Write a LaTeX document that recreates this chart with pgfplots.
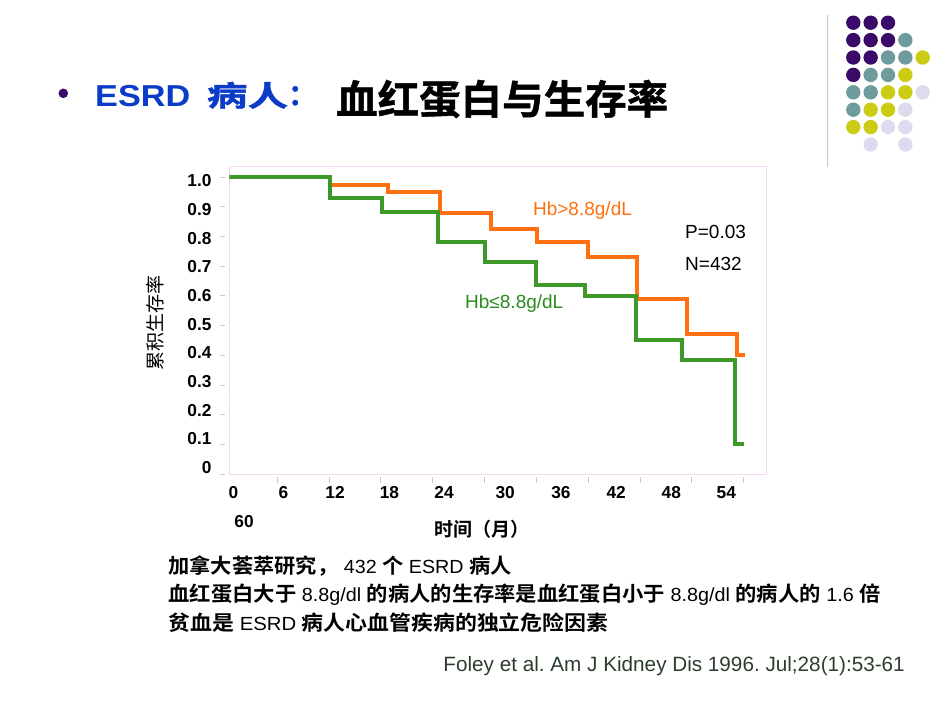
\documentclass[border=0pt]{standalone}
\usepackage{pgfplots}
\pgfplotsset{compat=1.18}
\usepackage{fontspec}
\setmainfont{Liberation Sans}
\newfontfamily\cjk{Noto Sans CJK SC}[BoldFont={Noto Sans CJK SC Bold}]
\newfontfamily\cjkheavy{Noto Sans CJK SC Bold}[FakeBold=1.2]
\newcommand\fs[1]{\fontsize{#1}{#1}\selectfont}
\frenchspacing

\definecolor{titleblue}{RGB}{10,60,200}
\definecolor{hbhigh}{RGB}{255,112,16}
\definecolor{hblow}{RGB}{62,152,40}
\definecolor{hblowtxt}{RGB}{40,140,30}
\definecolor{framepink}{RGB}{242,214,242}
\definecolor{tickgray}{RGB}{200,200,200}
\definecolor{citegreen}{RGB}{45,62,45}
\definecolor{dotP}{RGB}{59,10,104}
\definecolor{dotT}{RGB}{110,156,156}
\definecolor{dotY}{RGB}{204,204,20}
\definecolor{dotL}{RGB}{220,220,238}

% Kaplan--Meier curves: time (months), cumulative survival
\pgfplotstableread{
t      s
0      1.000
12.1   0.973
18.8   0.949
24.8   0.878
30.8   0.825
36.1   0.780
42.0   0.732
47.7   0.589
53.4   0.473
59.2   0.402
60.2   0.402
}\hbhightable
\pgfplotstableread{
t      s
0      1.000
12.1   0.928
18.1   0.883
24.6   0.780
30.1   0.713
36.0   0.637
41.6   0.601
47.6   0.452
52.9   0.385
59.0   0.100
60.0   0.100
}\hblowtable

\newcommand\zh[1]{{\cjk\bfseries\fs{20.5}#1}}

\begin{document}
\begin{tikzpicture}
\begin{scope}[x=1pt,y=-1pt]
  \path[use as bounding box] (0,0) rectangle (950,713);
  % slide decoration
  \draw[draw=tickgray, line width=1.5pt] (827.3,15) -- (827.3,167);
  \foreach \row/\cols in {0/{P,P,P,N,N},1/{P,P,P,T,N},2/{P,P,T,T,Y},3/{P,T,T,Y,N},
                          4/{T,T,Y,Y,L},5/{T,Y,Y,L,N},6/{Y,Y,L,L,N},7/{N,L,N,L,N}}{
    \foreach \c [count=\i from 0] in \cols {
      \if N\c\else
        \fill[dot\c] (853.3+17.35*\i, 22.7+17.4*\row) circle (7.2);
      \fi
    }
  }
  % title
  \fill[dotP] (63.3,93.3) circle (4.8);
  \node[anchor=base west, inner sep=0, text=titleblue] at (95,106.7)
    {\resizebox{95pt}{\height}{\fs{30.3}\bfseries ESRD}};
  \node[anchor=west, inner sep=0, text=titleblue] at (206.7,95.3)
    {\resizebox{81.3pt}{\height}{\fs{28.5}\cjkheavy 病人}};
  \node[anchor=center, inner sep=0, text=titleblue] at (302.5,95.8)
    {\fs{29}\cjkheavy ：};
  \node[anchor=west, inner sep=0] at (336,99)
    {\resizebox{332pt}{\height}{\fs{40}\cjkheavy 血红蛋白与生存率}};
  % curve annotations
  \node[anchor=base, inner sep=0, text=hbhigh, font=\fs{19}] at (582.5,215) {Hb>8.8g/dL};
  \node[anchor=base west, inner sep=0, font=\fs{19}] at (685,238.5) {P=0.03};
  \node[anchor=base west, inner sep=0, font=\fs{19}] at (685,270) {N=432};
  \node[anchor=base west, inner sep=0, text=hblowtxt, font=\fs{19}] at (465,308.5) {Hb≤8.8g/dL};
  % notes below the chart
  \node[anchor=base west, inner sep=0, font=\fs{19}] at (168.3,573.3)
    {\resizebox{343pt}{\height}{\zh{加拿大荟萃研究，} 432 \zh{个} ESRD \zh{病人}}};
  \node[anchor=base west, inner sep=0, font=\fs{19}] at (168.3,601.7)
    {\resizebox{712pt}{\height}{\zh{血红蛋白大于} 8.8g/dl \zh{的病人的生存率是血红蛋白小于} 8.8g/dl \zh{的病人的} 1.6 \zh{倍}}};
  \node[anchor=base west, inner sep=0, font=\fs{19}] at (168.3,630.7)
    {\resizebox{440pt}{\height}{\zh{贫血是} ESRD \zh{病人心血管疾病的独立危险因素}}};
  \node[anchor=base east, inner sep=0, text=citegreen, font=\fs{20.7}] at (905,671.7)
    {Foley et al. Am J Kidney Dis 1996. Jul;28(1):53-61};
\end{scope}

\begin{axis}[
  at={(229.3pt,-474pt)}, anchor=south west,
  scale only axis, width=536.7pt, height=308pt,
  xmin=0.46, xmax=62.6, ymin=0, ymax=1.037,
  axis line style={draw=framepink, line width=1pt},
  xtick pos=lower, ytick pos=left,
  tick align=outside, major tick length=5.5pt,
  xtick={6,12,...,60}, xticklabels={},
  extra x ticks={0.93,6.72,12.71,19.0,25.33,32.4,38.85,45.26,51.63,58.0},
  extra x tick labels={0,6,12,18,24,30,36,42,48,54},
  extra x tick style={major tick length=0pt, tick style={draw=none}},
  ytick={0,0.1,0.2,0.3,0.4,0.5,0.6,0.7,0.8,0.9,1.0},
  yticklabels={0,0.1,0.2,0.3,0.4,0.5,0.6,0.7,0.8,0.9,1.0},
  xtick style={draw=tickgray, line width=0.8pt, yshift=-3pt},
  ytick style={draw=tickgray, line width=0.8pt, xshift=-4.3pt},
  tick label style={font=\fs{17.3}\bfseries, inner sep=0pt},
  xticklabel style={anchor=center, yshift=-18.8pt},
  yticklabel style={anchor=east, xshift=-12.1pt, yshift={6.5pt-1.05pt*\ticknum}},
  xlabel={\cjk\bfseries 时间（月）},
  ylabel={\cjk 累积生存率},
  every axis x label/.style={at={(rel axis cs:0.4708,-0.18)}, anchor=center, font=\fs{19}},
  every axis y label/.style={at={(rel axis cs:-0.1384,0.4903)}, anchor=center, rotate=90, font=\fs{19}},
  clip mode=individual,
]
  \addplot[const plot, hbhigh, line width=4pt] table[x=t, y=s] {\hbhightable};
  \addplot[const plot, hblow, line width=4pt] table[x=t, y=s] {\hblowtable};
  \node[font=\fs{17.3}\bfseries, yshift=-47.7pt] at (axis cs:2.17,0) {60};
\end{axis}
\end{tikzpicture}
\end{document}
